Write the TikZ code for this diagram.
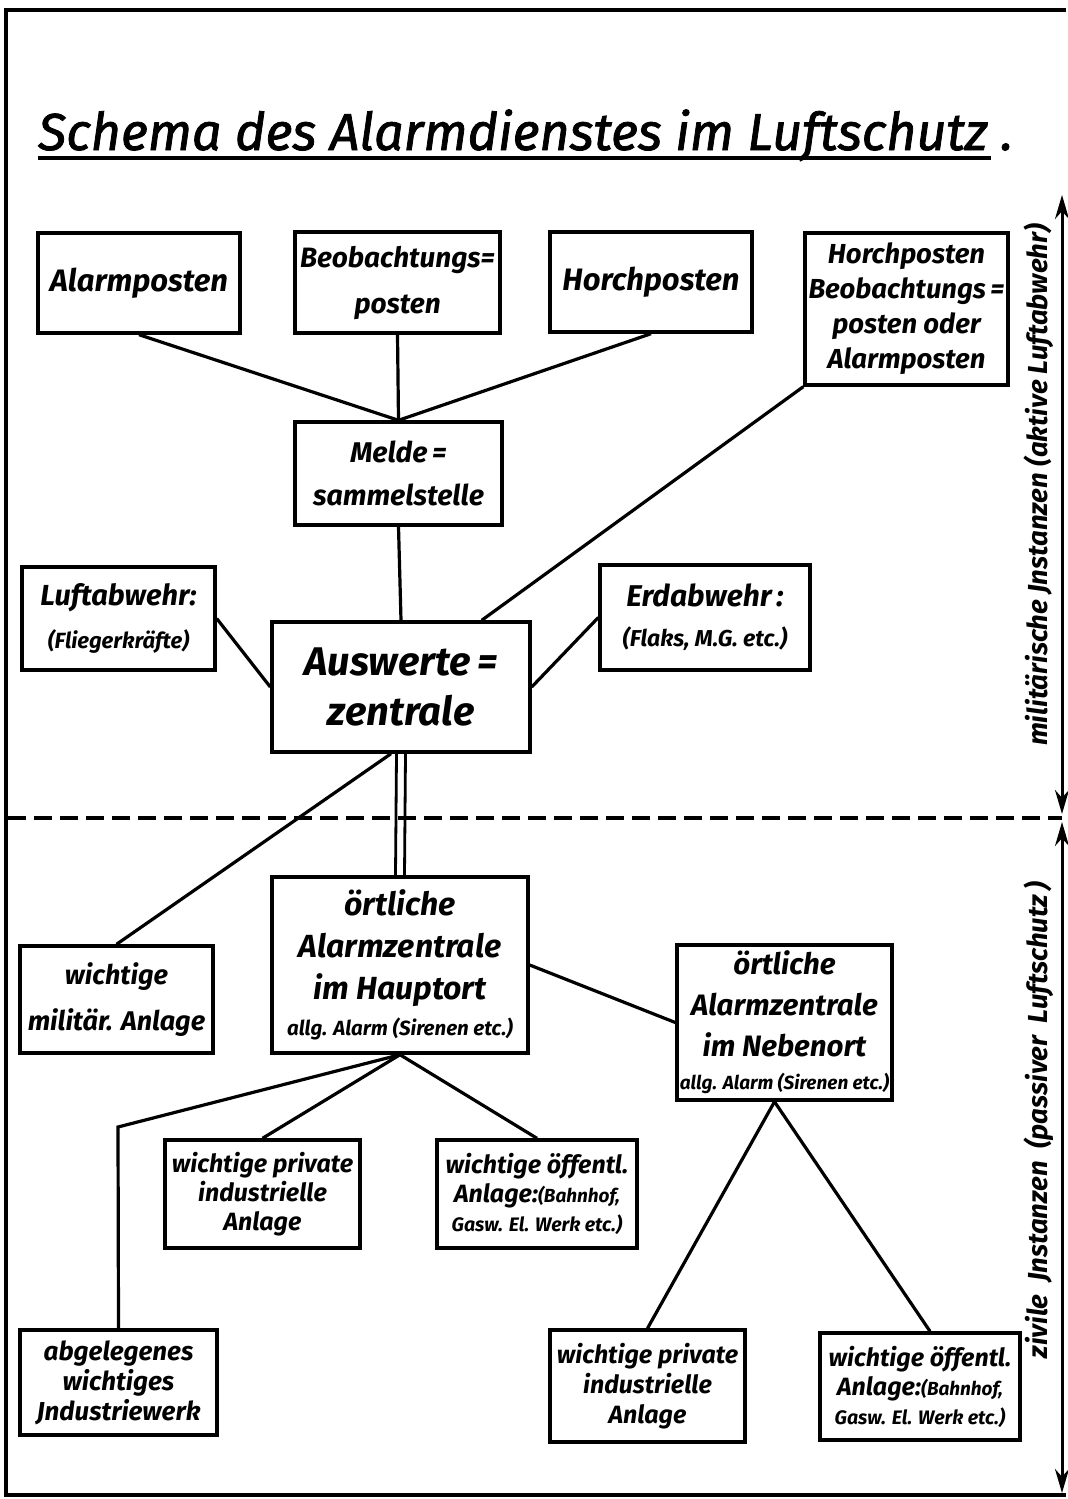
\documentclass[tikz,border=0pt]{standalone}
\usepackage{fontspec}
\setmainfont{Fira Sans}
\newfontfamily\titlefont{Fira Sans}[FakeBold=1.5]
\usetikzlibrary{arrows.meta,calc}
\newcommand{\fs}[2]{\fontsize{#1}{#2}\selectfont}
\begin{document}
\begin{tikzpicture}[x=1pt,y=-1pt,
  box/.style={draw,line width=3.4pt,inner sep=0pt,align=center,
    font=\bfseries\itshape\fs{28}{42}},
  lowbox/.style={box,font=\bfseries\itshape\fs{25}{29}},
  conn/.style={line width=3.2pt},
  side/.style={rotate=90,font=\bfseries\itshape\fs{27.5}{32}},
  dblarrow/.style={line width=3pt,{Stealth[length=24pt,width=14pt]}-{Stealth[length=24pt,width=14pt]}}]
\useasboundingbox (0,0) rectangle (1068,1499);
% frame
\draw[line width=3.4pt] (1066,10) -- (6,10) -- (6,1495) -- (1066,1495);
% title
\node[font=\titlefont\itshape\fs{52}{60},anchor=base west,inner sep=0pt] (title) at (38,150) {Schema des Alarmdienstes im Luftschutz .};
\draw[line width=4pt] ($(title.base west)+(0,8)$) -- ($(title.base east)+(-22,8)$);
% boxes upper
\node[box,minimum width=202pt,minimum height=100pt,font=\bfseries\itshape\fs{31}{40}] (alarm) at (139,283) {Alarmposten};
\node[box,minimum width=205pt,minimum height=101pt,font=\bfseries\itshape\fs{28}{46}] (beob) at (397.5,282.5) {Beobachtungs=\\posten};
\node[box,minimum width=202pt,minimum height=100pt,font=\bfseries\itshape\fs{31}{40}] (horch) at (651,282) {Horchposten};
\node[box,minimum width=203pt,minimum height=152pt,font=\bfseries\itshape\fs{27.5}{35}] (horch2) at (906.5,309) {Horchposten\\Beobachtungs\,=\\posten oder\\Alarmposten};
\node[box,minimum width=207pt,minimum height=103pt,font=\bfseries\itshape\fs{28.5}{43}] (melde) at (398.5,473.5) {Melde\,=\\sammelstelle};
\node[box,minimum width=193pt,minimum height=103pt,font=\bfseries\itshape\fs{29}{43}] (luft) at (118.5,618.5) {Luftabwehr:\\{\fs{22}{26}(Fliegerkräfte)}};
\node[box,minimum width=258pt,minimum height=130pt,font=\bfseries\itshape\fs{40}{50}] (ausw) at (401,687) {Auswerte\,=\\zentrale};
\node[box,minimum width=210pt,minimum height=105pt,font=\bfseries\itshape\fs{30}{40}] (erd) at (705,617.5) {Erdabwehr\,:\\{\fs{23}{26}(Flaks, M.G. etc.)}};
% separator
\coordinate (dl) at (8,818);
\coordinate (dr) at (1062,818);
\draw[line width=3.2pt,dash pattern=on 18pt off 8pt] (dl) -- (dr);
% boxes lower
\node[box,minimum width=256pt,minimum height=176pt,font=\bfseries\itshape\fs{32}{42}] (haupt) at (400,965) {örtliche\\Alarmzentrale\\im Hauptort\\[-6pt]{\fs{20.5}{24}allg. Alarm (Sirenen etc.)}};
\node[box,minimum width=193pt,minimum height=107pt,font=\bfseries\itshape\fs{27}{46}] (milit) at (116.5,999.5) {wichtige\\militär. Anlage};
\node[box,minimum width=215pt,minimum height=155pt,font=\bfseries\itshape\fs{29.5}{41}] (neben) at (784.5,1022.5) {örtliche\\Alarmzentrale\\im Nebenort\\[-8pt]{\fs{19}{22}allg. Alarm (Sirenen etc.)}};
\node[lowbox,minimum width=195pt,minimum height=108pt] (priv1) at (262.5,1194) {wichtige private\\industrielle\\Anlage};
\node[lowbox,minimum width=200pt,minimum height=108pt] (oeff1) at (537,1194) {wichtige öffentl.\\Anlage:{\fs{19}{22}(Bahnhof,}\\{\fs{19.5}{22}Gasw. El. Werk etc.)}};
\node[lowbox,minimum width=197pt,minimum height=105pt,font=\bfseries\itshape\fs{26}{30}] (abgel) at (118.5,1382.5) {abgelegenes\\wichtiges\\Jndustriewerk};
\node[lowbox,minimum width=195pt,minimum height=112pt,font=\bfseries\itshape\fs{25}{30}] (priv2) at (647.5,1386) {wichtige private\\industrielle\\Anlage};
\node[lowbox,minimum width=200pt,minimum height=107pt] (oeff2) at (920,1386.5) {wichtige öffentl.\\Anlage:{\fs{19}{22}(Bahnhof,}\\{\fs{19.5}{22}Gasw. El. Werk etc.)}};
% connectors upper
\draw[conn] (alarm.south) -- (melde.north);
\draw[conn] (beob.south) -- (melde.north);
\draw[conn] (horch.south) -- (melde.north);
\draw[conn] (horch2.south west) -- ($(ausw.north east)+(-50,0)$);
\draw[conn] (melde.south) -- (ausw.north);
\draw[conn] (luft.east) -- (ausw.west);
\draw[conn] (erd.west) -- (ausw.east);
% connectors lower
\draw[conn] ($(ausw.south)+(-10,0)$) -- (milit.north);
\draw[line width=2.8pt] ($(ausw.south)+(-4.5,0)$) -- ($(haupt.north)+(-4.5,0)$);
\draw[line width=2.8pt] ($(ausw.south)+(4.5,0)$) -- ($(haupt.north)+(4.5,0)$);
\draw[conn] (haupt.east) -- (neben.west);
\coordinate (knick) at (118,1127);
\draw[conn] (haupt.south) -- (knick) -- (abgel.north);
\draw[conn] (haupt.south) -- (priv1.north);
\draw[conn] (haupt.south) -- (oeff1.north);
\draw[conn] ($(neben.south)+(-10,0)$) -- (priv2.north);
\draw[conn] ($(neben.south)+(-10,0)$) -- ($(oeff2.north)+(10,0)$);
% right side arrows
\coordinate (rtop) at (1062,195);
\coordinate (rmida) at (1062,814);
\coordinate (rmidb) at (1062,822);
\coordinate (rbot) at (1062,1493);
\draw[dblarrow] (rtop) -- (rmida);
\draw[dblarrow] (rmidb) -- (rbot);
\node[side] (mil) at (1039,485) {militärische Jnstanzen (aktive Luftabwehr)};
\node[side] (ziv) at (1039,1120) {zivile\ \ Jnstanzen\ \ (passiver\ \ Luftschutz\,)};
\end{tikzpicture}
\end{document}
